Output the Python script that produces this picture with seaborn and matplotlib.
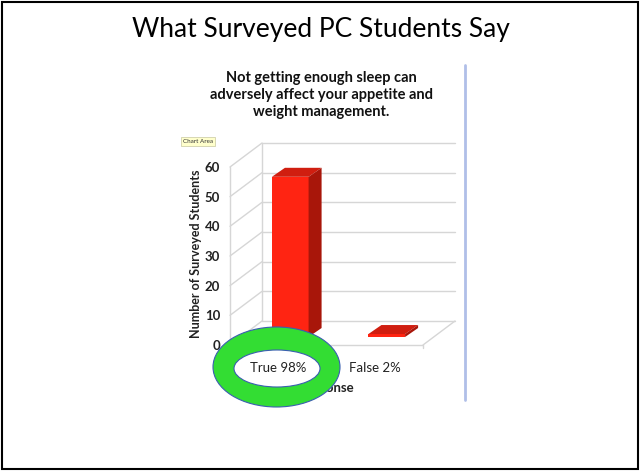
import matplotlib
matplotlib.use("Agg")
import matplotlib.pyplot as plt
import seaborn as sns
from matplotlib.patches import Polygon, Ellipse, Rectangle
from matplotlib.lines import Line2D
from matplotlib.transforms import ScaledTranslation

# ---- data ----
slide_title = "What Surveyed PC Students Say"
chart_title = "Not getting enough sleep can\nadversely affect your appetite and\nweight management."
responses = ["True 98%", "False 2%"]
counts = [54, 1]
y_ticks = [0, 10, 20, 30, 40, 50, 60]
y_label = "Number of Surveyed Students"
x_label = "Response"

W, H, DPI = 641, 471, 100
sns.set_theme(style="white")
plt.rcParams['font.family'] = ['Lato', 'DejaVu Sans']

fig = plt.figure(figsize=(W / DPI, H / DPI), dpi=DPI)
fig.patch.set_facecolor("white")


def fx(px):
    return px / W


def fy(py):
    return 1 - py / H


ax = fig.add_axes([fx(230), fy(345), 193 / W, 178 / H])
ax.patch.set_alpha(0)
sns.barplot(x=responses, y=counts, ax=ax, color="#ff2412", saturation=1,
            width=0.38, edgecolor="none", linewidth=0)
bars = list(ax.patches)
ax.set_ylim(0, 60)
ax.set_xlim(-0.5, 1.5)
ax.set_yticks(y_ticks)
ax.set_yticklabels([str(t) for t in y_ticks], fontweight='bold', fontsize=9.5, color="#222222")
for s in ax.spines.values():
    s.set_visible(False)
ax.tick_params(axis='y', length=0, pad=7)
ax.tick_params(axis='x', length=0, labelbottom=False)
ax.set_xlabel("")
ax.set_ylabel("")
ax.grid(False)

DX, DY = 32, 24      # wall depth (px)
BX, BY = 12, 8       # bar front offset (px)
BDX, BDY = 13, 9     # bar depth (px)


def P(x, y, dx=0, dy=0):
    d = ax.transData.transform((x, y))
    return ((d[0] + dx) / W, (d[1] + dy) / H)


grid_c = "#d6d6d6"


def gline(p0, p1, c=grid_c, lw=1.0):
    ax.add_line(Line2D([p0[0], p1[0]], [p0[1], p1[1]], transform=fig.transFigure,
                       color=c, lw=lw, clip_on=False, zorder=0.5))


x0, x1 = ax.get_xlim()
for v in y_ticks:
    gline(P(x0, v, DX, DY), P(x1, v, DX, DY))
    gline(P(x0, v), P(x0, v, DX, DY))
gline(P(x0, 0, DX, DY), P(x0, 60, DX, DY))
gline(P(x0, 0), P(x0, 60))
gline(P(x0, 0), P(x1, 0))
gline(P(x1, 0), P(x1, 0, DX, DY))
gline(P(x1, 0), P(x1, 0, 0, -3))

shift = ScaledTranslation(BX / DPI, BY / DPI, fig.dpi_scale_trans)
for b in bars:
    bx0, w, h = b.get_x(), b.get_width(), b.get_height()
    b.set_transform(ax.transData + shift)
    b.set_clip_on(False)
    b.set_zorder(2)
    top = [P(bx0, h, BX, BY), P(bx0 + w, h, BX, BY),
           P(bx0 + w, h, BX + BDX, BY + BDY), P(bx0, h, BX + BDX, BY + BDY)]
    side = [P(bx0 + w, 0, BX, BY), P(bx0 + w, h, BX, BY),
            P(bx0 + w, h, BX + BDX, BY + BDY), P(bx0 + w, 0, BX + BDX, BY + BDY)]
    ax.add_patch(Polygon(top, closed=True, transform=fig.transFigure, fc="#d01e10",
                         ec="none", clip_on=False, zorder=2))
    ax.add_patch(Polygon(side, closed=True, transform=fig.transFigure, fc="#a8160a",
                         ec="none", clip_on=False, zorder=2))
ax.set_xlim(x0, x1)
ax.set_ylim(0, 60)

# axis titles
fig.text(fx(196), fy(254), y_label, rotation=90, ha='center', va='center',
         fontweight='bold', fontsize=9, color="#222222", zorder=1)
fig.text(fx(326), fy(388), x_label, ha='center', va='center',
         fontweight='bold', fontsize=9.5, color="#222222", zorder=1)

# highlight ring
fig.add_artist(Ellipse((fx(276.5), fy(367)), 127 / W, 80 / H, transform=fig.transFigure,
                       fc="#33dd33", ec="#3a5fb0", lw=0.8, zorder=5))
fig.add_artist(Ellipse((fx(277), fy(368.5)), 86 / W, 37 / H, transform=fig.transFigure,
                       fc="white", ec="#3a5fb0", lw=0.8, zorder=6))

# category labels
for i, r in enumerate(responses):
    xx = P(i, 0)[0]
    fig.text(xx, fy(368), r, ha='center', va='center', fontsize=9.5,
             color="#222222", zorder=10)

# titles
fig.text(fx(321), fy(95), chart_title, ha='center', va='center', fontweight='bold',
         fontsize=10.5, linespacing=1.3, color="#111111")
fig.text(fx(320.5), fy(30), slide_title, ha='center', va='center', fontsize=19,
         color="black")

# "Chart Area" tooltip
fig.text(fx(183), fy(141.5), "Chart Area", fontsize=4.5, ha='left', va='center',
         color="#333333",
         bbox=dict(boxstyle='square,pad=0.3', fc='#ffffcc', ec='#c8c8a0', lw=0.5))

# divider line
fig.add_artist(Line2D([fx(465), fx(465)], [fy(65), fy(400)], transform=fig.transFigure,
                      color="#b0bfe8", lw=2))

# slide border
fig.add_artist(Rectangle((fx(2), fy(469)), 636 / W, 467 / H, transform=fig.transFigure,
                         fill=False, ec="black", lw=1.5))

fig.savefig("out.png", dpi=DPI)
